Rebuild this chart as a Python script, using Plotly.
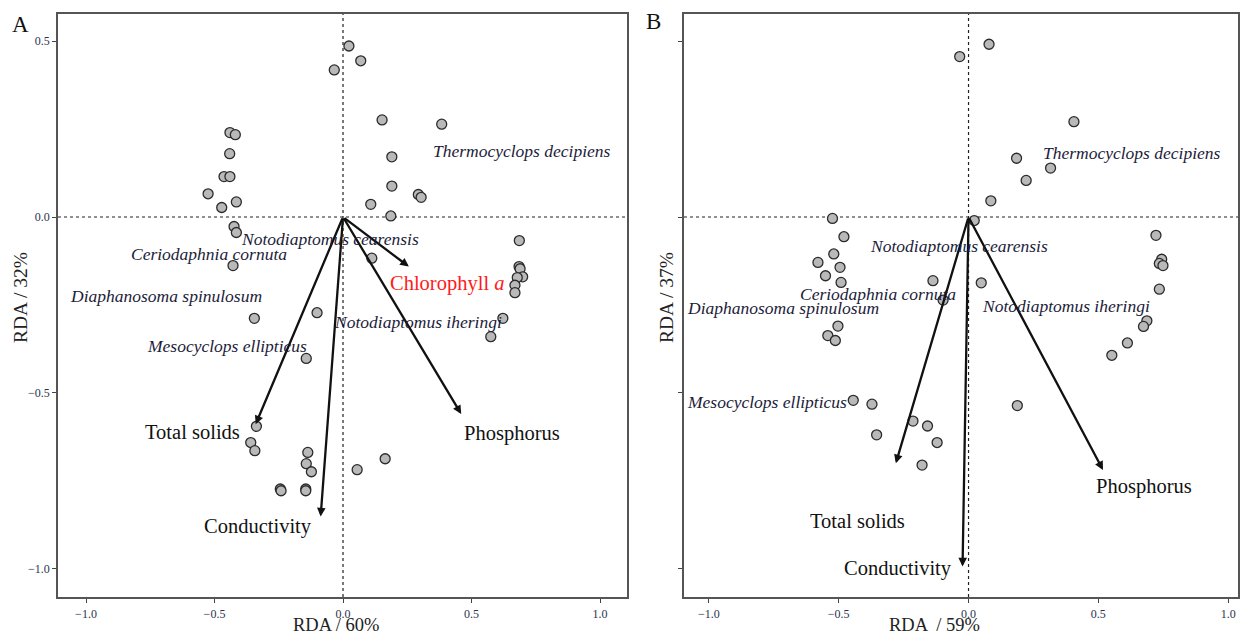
import plotly.graph_objects as go

# ---------------- Panel A data ----------------
a_site_x = [0.023, 0.069, -0.034, 0.152, 0.384, 0.19, 0.19, 0.108, 0.186, 0.293, 0.304,
            -0.44, -0.419, -0.441, -0.463, -0.44, -0.525, -0.472, -0.415, -0.424, -0.415, -0.428,
            0.112, -0.101, -0.345, 0.622, 0.575, -0.143,
            0.686, 0.685, 0.689, 0.699, 0.678, 0.669, 0.669,
            -0.337, -0.359, -0.343, -0.137, -0.143, -0.123, 0.164, 0.055,
            -0.244, -0.241, -0.145, -0.145]
a_site_y = [0.486, 0.444, 0.418, 0.276, 0.264, 0.171, 0.088, 0.036, 0.003, 0.064, 0.056,
            0.24, 0.234, 0.18, 0.115, 0.115, 0.066, 0.027, 0.043, -0.027, -0.044, -0.138,
            -0.117, -0.272, -0.288, -0.288, -0.34, -0.402,
            -0.067, -0.141, -0.147, -0.17, -0.172, -0.194, -0.215,
            -0.595, -0.641, -0.664, -0.669, -0.701, -0.724, -0.687, -0.718,
            -0.773, -0.778, -0.773, -0.778]

a_env_names = ["Total solids", "Conductivity", "Phosphorus", "Chlorophyll <i>a</i>"]
a_env_x = [-0.34, -0.087, 0.46, 0.256]
a_env_y = [-0.589, -0.851, -0.56, -0.141]
a_env_label_x = [-0.584, -0.331, 0.658, 0.405]
a_env_label_y = [-0.611, -0.881, -0.614, -0.19]
a_env_colors = ["#111111", "#111111", "#111111", "#ff1a1a"]

a_species = ["Thermocyclops decipiens", "Notodiaptomus cearensis", "Ceriodaphnia cornuta",
             "Diaphanosoma spinulosum", "Notodiaptomus iheringi", "Mesocyclops ellipticus"]
a_species_x = [0.697, -0.05, -0.52, -0.69, 0.29, -0.45]
a_species_y = [0.188, -0.0625, -0.104, -0.224, -0.298, -0.366]

# ---------------- Panel B data ----------------
b_site_x = [0.079, -0.034, 0.406, 0.185, 0.316, 0.222, 0.086, 0.022,
            -0.524, -0.48, -0.519, -0.58, -0.495, -0.551, -0.491,
            -0.137, -0.098, 0.049,
            0.722, 0.744, 0.735, 0.749, 0.735,
            -0.503, -0.542, -0.513, 0.687, 0.674, 0.612, 0.552,
            -0.444, -0.372, 0.188, -0.214, -0.158, -0.354, -0.121, -0.179]
b_site_y = [0.491, 0.456, 0.271, 0.167, 0.139, 0.104, 0.046, -0.01,
            -0.004, -0.056, -0.105, -0.129, -0.143, -0.167, -0.186,
            -0.181, -0.236, -0.187,
            -0.052, -0.12, -0.132, -0.138, -0.205,
            -0.31, -0.337, -0.351, -0.295, -0.311, -0.358, -0.393,
            -0.521, -0.532, -0.536, -0.58, -0.594, -0.619, -0.641, -0.705]

b_env_names = ["Total solids", "Conductivity", "Phosphorus"]
b_env_x = [-0.28, -0.023, 0.518]
b_env_y = [-0.7, -0.993, -0.719]
b_env_label_x = [-0.427, -0.271, 0.674]
b_env_label_y = [-0.863, -0.998, -0.766]

b_species = ["Thermocyclops decipiens", "Notodiaptomus cearensis", "Ceriodaphnia cornuta",
             "Diaphanosoma spinulosum", "Notodiaptomus iheringi", "Mesocyclops ellipticus"]
b_species_x = [0.631, -0.037, -0.348, -0.715, 0.376, -0.778]
b_species_y = [0.181, -0.082, -0.22, -0.26, -0.253, -0.525]

tick_vals = [-1.0, -0.5, 0.0, 0.5, 1.0]
tick_text = ["\u22121.0", "\u22120.5", "0.0", "0.5", "1.0"]

SERIF = "'Liberation Serif', 'Times New Roman', Times, serif"
W, H = 1242, 634

fig = go.Figure()

marker = dict(size=10, color="#b9b9b9", line=dict(color="#2b2b2b", width=1.3))
fig.add_trace(go.Scatter(x=a_site_x, y=a_site_y, mode="markers", marker=marker,
                         xaxis="x", yaxis="y", showlegend=False, hoverinfo="skip"))
fig.add_trace(go.Scatter(x=b_site_x, y=b_site_y, mode="markers", marker=marker,
                         xaxis="x2", yaxis="y2", showlegend=False, hoverinfo="skip"))

annotations = []
shapes = []

def add_panel(xr, yr, env_x, env_y, env_names, lab_x, lab_y, env_colors, sp, spx, spy):
    # zero reference lines
    shapes.append(dict(type="line", xref=xr, yref=yr + " domain", x0=0, x1=0, y0=0, y1=1,
                       line=dict(color="#222", width=1.2, dash="dot"), layer="below"))
    shapes.append(dict(type="line", xref=xr + " domain", yref=yr, x0=0, x1=1, y0=0, y1=0,
                       line=dict(color="#222", width=1.2, dash="dot"), layer="below"))
    for i in range(len(env_x)):
        annotations.append(dict(x=env_x[i], y=env_y[i], ax=0, ay=0, xref=xr, yref=yr,
                                axref=xr, ayref=yr, showarrow=True, arrowhead=2,
                                arrowsize=0.75, arrowwidth=2.3, arrowcolor="#111", text=""))
        annotations.append(dict(x=lab_x[i], y=lab_y[i], xref=xr, yref=yr, showarrow=False,
                                text=env_names[i], xanchor="center", yanchor="middle",
                                font=dict(family=SERIF, size=20.5, color=env_colors[i])))
    for i in range(len(sp)):
        annotations.append(dict(x=spx[i], y=spy[i], xref=xr, yref=yr, showarrow=False,
                                text="<i>" + sp[i] + "</i>", xanchor="center", yanchor="middle",
                                font=dict(family=SERIF, size=17.5, color="#1c1c3a")))

add_panel("x", "y", a_env_x, a_env_y, a_env_names, a_env_label_x, a_env_label_y, a_env_colors,
          a_species, a_species_x, a_species_y)
add_panel("x2", "y2", b_env_x, b_env_y, b_env_names, b_env_label_x, b_env_label_y,
          ["#111111"] * 3, b_species, b_species_x, b_species_y)

# panel letters and axis titles
def paper_text(px, py, text, size, angle=0, color="#222"):
    return dict(x=px / W, y=1 - py / H, xref="paper", yref="paper", text=text, showarrow=False,
                xanchor="center", yanchor="middle", textangle=angle,
                font=dict(family=SERIF, size=size, color=color))

annotations += [
    paper_text(20, 25, "A", 23, color="#111"),
    paper_text(653, 21, "B", 23, color="#111"),
    paper_text(336, 624.5, "RDA / 60%", 18.5),
    paper_text(934, 624.5, "RDA  / 59%", 18.5),
    paper_text(20, 298, "RDA / 32%", 19.5, angle=-90),
    paper_text(666, 298, "RDA / 37%", 19.5, angle=-90),
]

axis_common = dict(showgrid=False, zeroline=False, showline=True, linecolor="#555",
                   linewidth=1.5, mirror=True, ticks="outside", ticklen=4, tickcolor="#444",
                   tickvals=tick_vals, ticktext=tick_text,
                   tickfont=dict(family=SERIF, size=12, color="#2a3350"))

ydom = [(H - 597) / H, (H - 14) / H]
fig.update_layout(
    width=W, height=H, margin=dict(l=0, r=0, t=0, b=0),
    paper_bgcolor="white", plot_bgcolor="white",
    font=dict(family=SERIF),
    xaxis=dict(domain=[58 / W, 627 / W], range=[-1.109, 1.105], anchor="y",
               ticklabelstandoff=1, **axis_common),
    yaxis=dict(domain=ydom, range=[-1.08, 0.577], anchor="x", **axis_common),
    xaxis2=dict(domain=[684 / W, 1238 / W], range=[-1.096, 1.038], anchor="y2",
                ticklabelstandoff=1, **axis_common),
    yaxis2=dict(domain=ydom, range=[-1.08, 0.577], anchor="x2", showticklabels=False,
                **axis_common),
    annotations=annotations, shapes=shapes,
)

fig.write_html("out.html", config={"displayModeBar": False},
               post_script="document.body.style.margin='0';document.body.style.overflow='hidden';")
